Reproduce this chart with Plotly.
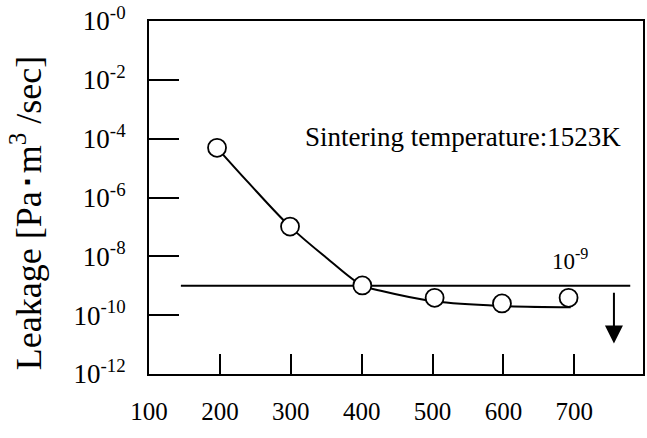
import plotly.graph_objects as go

# Measured points
temp_x = [196, 299, 401, 503, 598, 692]
leak_y = [10**-4.31, 10**-6.99, 10**-8.99, 10**-9.41, 10**-9.60, 10**-9.41]

# Fitted curve
curve_x = [196, 239, 299, 352, 401, 427, 503, 598, 695]
curve_y = [10**-4.31, 10**-5.46, 10**-6.99, 10**-8.08, 10**-8.99, 10**-9.17, 10**-9.53, 10**-9.69, 10**-9.73]

# 10^-9 criterion line
limit_x = [145, 779]
limit_y = [1e-9, 1e-9]

x_ticks = [100, 200, 300, 400, 500, 600, 700]
y_exp = [0, -2, -4, -6, -8, -10, -12]
y_ticktext = ["10<sup>-%d</sup>" % abs(e) for e in y_exp]

FONT = "Liberation Serif, Times New Roman, serif"

fig = go.Figure()
fig.add_trace(go.Scatter(x=limit_x, y=limit_y, mode="lines",
                         line=dict(color="black", width=1.8), hoverinfo="skip"))
fig.add_trace(go.Scatter(x=curve_x, y=curve_y, mode="lines",
                         line=dict(color="black", width=2, shape="spline", smoothing=1.0),
                         hoverinfo="skip"))
fig.add_trace(go.Scatter(x=temp_x, y=leak_y, mode="markers",
                         marker=dict(symbol="circle", size=18, color="white",
                                     line=dict(color="black", width=1.8))))

fig.add_annotation(x=543, y=-3.93, xref="x", yref="y", text="Sintering temperature:1523K",
                   showarrow=False, font=dict(family=FONT, size=27, color="black"))
fig.add_annotation(x=694, y=-8.12, xref="x", yref="y", text="10<sup>-9</sup>",
                   showarrow=False, font=dict(family=FONT, size=23, color="black"))
fig.add_annotation(x=756, y=-10.96, xref="x", yref="y", ax=756, ay=-9.19,
                   axref="x", ayref="y", text="", showarrow=True,
                   arrowhead=2, arrowsize=1.8, arrowwidth=2, arrowcolor="black")
fig.add_annotation(x=-0.248, y=0.457, xref="paper", yref="paper",
                   xanchor="center", yanchor="middle",
                   text="Leakage [Pa･m<sup>3</sup> /sec]", textangle=-90,
                   showarrow=False, font=dict(family=FONT, size=36, color="black"))

fig.update_layout(
    width=647, height=438,
    margin=dict(l=149, r=2, t=15, b=64),
    plot_bgcolor="white", paper_bgcolor="white",
    showlegend=False,
    font=dict(family=FONT, size=25, color="black"),
)
fig.update_xaxes(range=[100, 797], tickvals=x_ticks, ticktext=[str(v) for v in x_ticks],
                 ticks="inside", ticklen=20, tickwidth=2, tickcolor="black",
                 showline=True, linewidth=2, linecolor="black", mirror=True,
                 showgrid=False, zeroline=False, ticklabelstandoff=14,
                 tickfont=dict(family=FONT, size=25, color="black"))
fig.update_yaxes(type="log", range=[-12, 0], tickvals=[10**e for e in y_exp], ticktext=y_ticktext,
                 ticks="inside", ticklen=30, tickwidth=2, tickcolor="black",
                 showline=True, linewidth=2, linecolor="black", mirror=True,
                 showgrid=False, zeroline=False, ticklabelstandoff=16,
                 ticklabeloverflow="allow",
                 tickfont=dict(family=FONT, size=27, color="black"))

fig.write_html("out.html")
